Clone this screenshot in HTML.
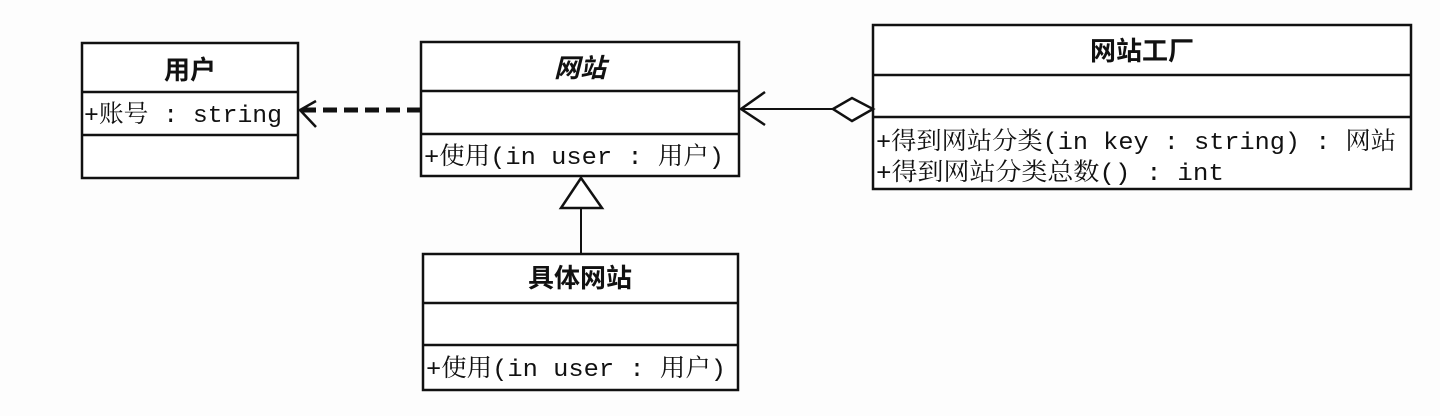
<!DOCTYPE html>
<html><head><meta charset="utf-8"><style>
html,body{margin:0;padding:0;background:#fff;}
svg{display:block;}
.t{font-family:"Noto Sans CJK SC","WenQuanYi Zen Hei",sans-serif;font-weight:bold;font-size:26px;fill:#111;}
.a{font-family:"Liberation Mono","Noto Serif CJK SC",monospace;font-size:24.5px;fill:#111;}
</style></head><body>
<svg width="1440" height="416" viewBox="0 0 1440 416" xmlns="http://www.w3.org/2000/svg">
<rect width="1440" height="416" fill="#fdfdfd"/>
<g fill="#fff" stroke="#111" stroke-width="2.5">
<rect x="82" y="43" width="216" height="135"/>
<line x1="82" y1="92" x2="298" y2="92"/><line x1="82" y1="135" x2="298" y2="135"/>
<rect x="421" y="42" width="318" height="134"/>
<line x1="421" y1="91" x2="739" y2="91"/><line x1="421" y1="134" x2="739" y2="134"/>
<rect x="873" y="25" width="538" height="164"/>
<line x1="873" y1="75" x2="1411" y2="75"/><line x1="873" y1="117" x2="1411" y2="117"/>
<rect x="423" y="254" width="315" height="136"/>
<line x1="423" y1="303" x2="738" y2="303"/><line x1="423" y1="345" x2="738" y2="345"/>
</g>
<text class="t" x="190" y="79" text-anchor="middle">用户</text>
<text class="a" x="84" y="122" textLength="198" lengthAdjust="spacingAndGlyphs">+账号 : string</text>
<text class="t" x="580" y="77" text-anchor="middle" font-style="italic">网站</text>
<text class="a" x="424" y="164" textLength="300" lengthAdjust="spacingAndGlyphs">+使用(in user : 用户)</text>
<text class="t" x="1142" y="60" text-anchor="middle">网站工厂</text>
<text class="a" x="876" y="149" textLength="520" lengthAdjust="spacingAndGlyphs">+得到网站分类(in key : string) : 网站</text>
<text class="a" x="876" y="180" textLength="348" lengthAdjust="spacingAndGlyphs">+得到网站分类总数() : int</text>
<text class="t" x="580" y="287" text-anchor="middle">具体网站</text>
<text class="a" x="426" y="376" textLength="300" lengthAdjust="spacingAndGlyphs">+使用(in user : 用户)</text>
<g stroke="#111" fill="none">
<line x1="421" y1="110" x2="302" y2="110" stroke-width="5" stroke-dasharray="14,7"/>
<polyline points="316,101 300,110 316,127" stroke-width="2.5"/>
<line x1="741" y1="109" x2="833" y2="109" stroke-width="2"/>
<polyline points="765,92 741,109 765,125" stroke-width="2.5"/>
<polygon points="833,109 852,98 873,109 852,121" fill="#fff" stroke-width="2.5"/>
<line x1="581" y1="208" x2="581" y2="254" stroke-width="2"/>
<polygon points="581,178 561,208 602,208" fill="#fff" stroke-width="2.5"/>
</g>
</svg>
</body></html>
